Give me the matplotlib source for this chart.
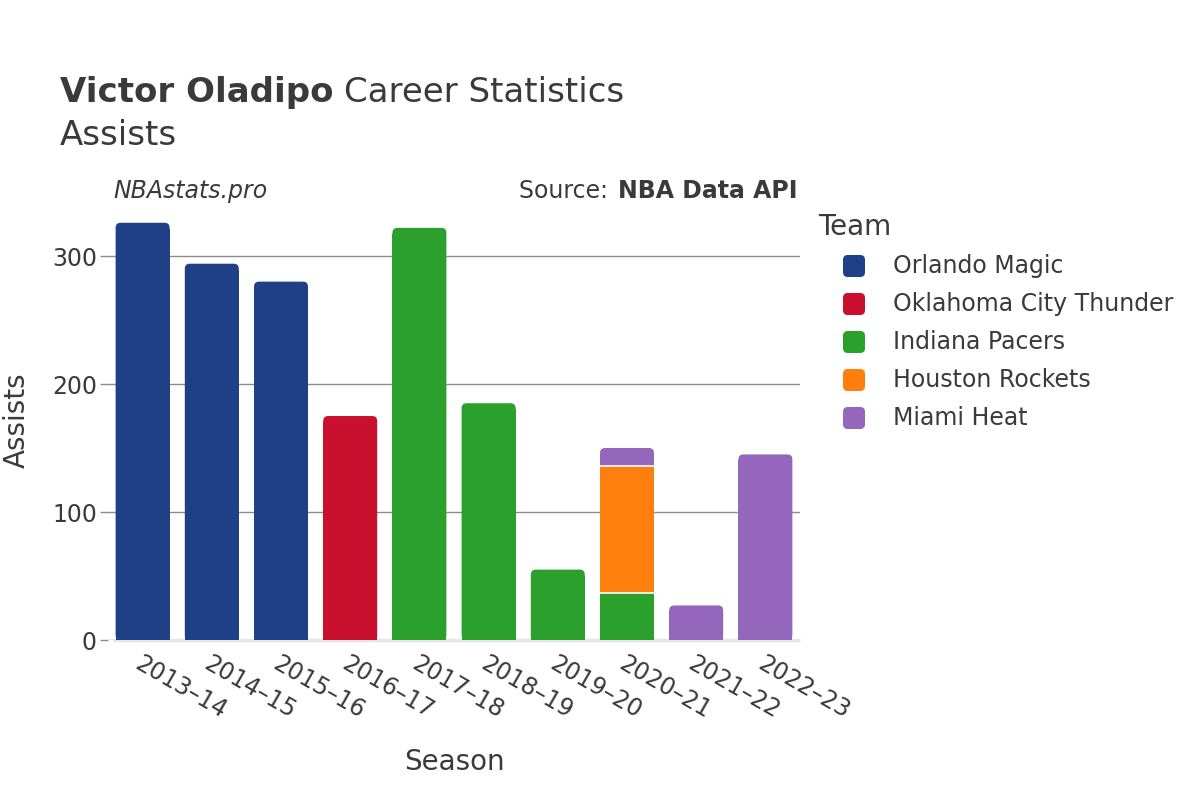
import matplotlib.pyplot as plt
import numpy as np
from matplotlib.patches import FancyBboxPatch, Rectangle

seasons = ['2013–14', '2014–15', '2015–16', '2016–17', '2017–18',
           '2018–19', '2019–20', '2020–21', '2021–22', '2022–23']
teams = ['Orlando Magic', 'Oklahoma City Thunder', 'Indiana Pacers',
         'Houston Rockets', 'Miami Heat']
team_colors = ['#1f4086', '#c8102e', '#2ca02c', '#ff7f0e', '#9467bd']

# assists per season for each team (stack order bottom -> top)
orlando = [326, 294, 280, 0, 0, 0, 0, 0, 0, 0]
okc = [0, 0, 0, 175, 0, 0, 0, 0, 0, 0]
indiana = [0, 0, 0, 0, 322, 185, 55, 37, 0, 0]
houston = [0, 0, 0, 0, 0, 0, 0, 99, 0, 0]
miami = [0, 0, 0, 0, 0, 0, 0, 14, 27, 145]

series = [orlando, okc, indiana, houston, miami]

plt.rcParams['font.family'] = ['DejaVu Sans']
text_col = '#3a3a3a'

W, H = 1200, 800
fig = plt.figure(figsize=(12, 8), dpi=100)
ax_left, ax_right, ax_bot, ax_top = 108, 800, 640, 201
ax = fig.add_axes([ax_left / W, 1 - ax_bot / H, (ax_right - ax_left) / W,
                   (ax_bot - ax_top) / H])

ymax = 343
x = np.arange(len(seasons))
bar_w = 0.78
# pixels per data unit, for rounded corners
px_x = (ax_right - ax_left) / len(seasons)
px_y = (ax_bot - ax_top) / ymax
r_px = 5
rx = r_px / px_x
ry = r_px / px_y

totals = np.sum(np.array(series, dtype=float), axis=0)
bottom = np.zeros(len(seasons))
for vals, col in zip(series, team_colors):
    vals = np.array(vals, dtype=float)
    for i in range(len(seasons)):
        v = vals[i]
        if v <= 0:
            continue
        b = bottom[i]
        x0 = x[i] - bar_w / 2
        if np.isclose(b + v, totals[i]):
            # top segment: rounded top corners
            ax.add_patch(FancyBboxPatch((x0, b), bar_w, v,
                                        boxstyle='round,pad=0,rounding_size=%f' % rx,
                                        mutation_aspect=ry / rx,
                                        facecolor=col, edgecolor='none', zorder=3))
            ax.add_patch(Rectangle((x0, b), bar_w, max(v - ry * 1.2, 0),
                                   facecolor=col, edgecolor='none', zorder=3))
        else:
            ax.add_patch(Rectangle((x0, b), bar_w, v, facecolor=col,
                                   edgecolor='none', zorder=3))
        if b > 0:
            ax.plot([x0, x0 + bar_w], [b, b], color='white', linewidth=1.2, zorder=4)
    bottom += vals

ax.set_xlim(-0.5, 9.5)
ax.set_ylim(0, ymax)
ax.set_yticks([0, 100, 200, 300])
ax.yaxis.grid(True, color='#8c8c8c', linewidth=1, zorder=0)
ax.set_axisbelow(True)
ax.plot([-0.43, 9.5], [0, 0], color='#e6e6e6', linewidth=2.5, zorder=2,
        solid_capstyle='butt', clip_on=False)
for s in ax.spines.values():
    s.set_visible(False)
ax.tick_params(axis='y', length=6, width=1, color='#8c8c8c', labelsize=17,
               labelcolor=text_col, pad=2)
ax.tick_params(axis='x', length=0, labelsize=17, labelcolor=text_col, pad=8)
ax.set_xticks(x)
ax.set_xticklabels(seasons, rotation=-30, ha='left', rotation_mode='anchor')
ax.set_xlabel('Season', fontsize=20, color=text_col, labelpad=18)
fig.text(17 / W, 1 - 420 / H, 'Assists', fontsize=20, color=text_col,
         rotation=90, ha='center', va='center')

t1 = fig.text(60 / W, 1 - 102 / H, 'Victor Oladipo', fontsize=24.5,
              fontweight='bold', color=text_col, ha='left', va='baseline')
fig.canvas.draw()
bb = t1.get_window_extent()
fig.text(bb.x1 / W + 10 / W, 1 - 102 / H, 'Career Statistics', fontsize=24.5,
         color=text_col, ha='left', va='baseline')
fig.text(60 / W, 1 - 145 / H, 'Assists', fontsize=24.5, color=text_col,
         ha='left', va='baseline')
fig.text(113 / W, 1 - 198 / H, 'NBAstats.pro', fontsize=17, style='italic',
         color=text_col, ha='left', va='baseline')
t2 = fig.text(797 / W, 1 - 198 / H, 'NBA Data API', fontsize=17, fontweight='bold',
              color=text_col, ha='right', va='baseline')
fig.canvas.draw()
bb2 = t2.get_window_extent()
fig.text(bb2.x0 / W - 2 / W, 1 - 198 / H, 'Source: ', fontsize=17, color=text_col,
         ha='right', va='baseline')

# legend drawn by hand
fig.text(818 / W, 1 - 227 / H, 'Team', fontsize=20, color=text_col,
         ha='left', va='center')
for k, (team, col) in enumerate(zip(teams, team_colors)):
    yc = 266 + 38 * k
    fig.patches.append(FancyBboxPatch((843 / W, 1 - (yc + 11) / H), 22 / W, 22 / H,
                                      boxstyle='round,pad=0,rounding_size=0.004',
                                      mutation_aspect=1.5,
                                      transform=fig.transFigure, facecolor=col,
                                      edgecolor='none', figure=fig))
    fig.text(893 / W, 1 - yc / H, team, fontsize=17, color=text_col,
             ha='left', va='center')

fig.savefig('out.png', dpi=100)
